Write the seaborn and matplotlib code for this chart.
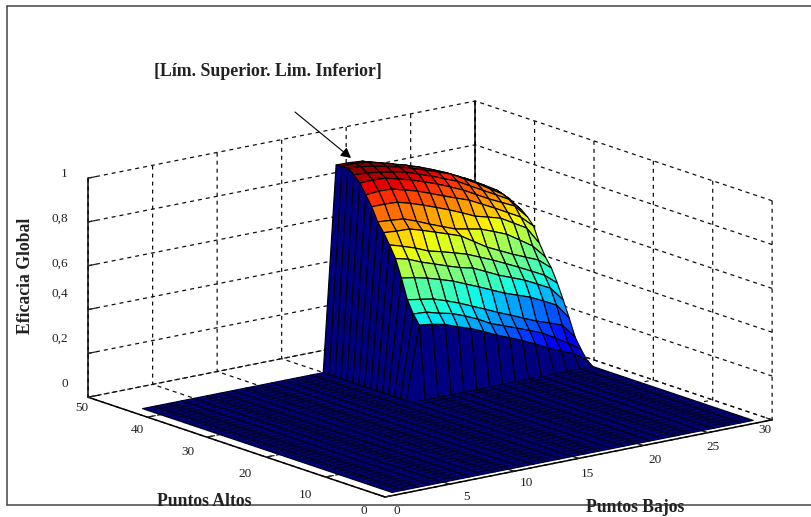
import numpy as np
import matplotlib
matplotlib.use("Agg")
import matplotlib.pyplot as plt
import seaborn as sns
from matplotlib.lines import Line2D
from matplotlib.patches import FancyArrowPatch
from mpl_toolkits.mplot3d import proj3d

# ---- data ----
puntos_bajos = list(range(1, 30))
puntos_altos = list(range(1, 44))
raised_bajos = list(range(16, 30))
raised_altos = list(range(29, 44))
# rows follow raised_altos (29 -> 43), columns raised_bajos (16 -> 29)
a29 = [.333, .325, .312, .29, .27, .245, .217, .192, .168, .14, .11, .085, .06, .02]
a30 = [.374, .371, .354, .341, .318, .292, .26, .238, .216, .193, .17, .135, .10, .06]
a31 = [.43, .42, .41, .39, .368, .342, .317, .29, .266, .24, .215, .195, .173, .107]
a32 = [.52, .51, .496, .478, .459, .434, .409, .383, .357, .336, .315, .286, .256, .185]
a33 = [.60, .585, .56, .54, .519, .50, .486, .458, .43, .407, .384, .354, .324, .258]
a34 = [.653, .635, .615, .59, .575, .558, .54, .515, .49, .462, .434, .404, .374, .326]
a35 = [.70, .695, .693, .675, .655, .635, .614, .577, .54, .512, .484, .459, .434, .386]
a36 = [.74, .735, .73, .708, .683, .66, .637, .625, .613, .59, .566, .528, .489, .427]
a37 = [.80, .80, .797, .78, .76, .738, .715, .69, .663, .647, .63, .596, .562, .48]
a38 = [.845, .85, .848, .832, .815, .793, .77, .748, .727, .697, .667, .635, .603, .55]
a39 = [.89, .892, .889, .873, .857, .836, .815, .79, .764, .732, .70, .672, .644, .582]
a40 = [.918, .915, .907, .896, .884, .863, .842, .818, .795, .762, .73, .698, .666, .605]
a41 = [.94, .935, .925, .912, .898, .88, .86, .84, .818, .785, .753, .716, .68, .619]
a42 = [.94, .94, .935, .92, .902, .885, .865, .842, .817, .788, .758, .724, .689, .637]
a43 = [.936, .935, .93, .912, .893, .875, .856, .828, .80, .78, .758, .722, .685, .646]
raised_rows = [a29, a30, a31, a32, a33, a34, a35, a36, a37, a38, a39, a40, a41, a42, a43]

x_ticks = [0, 5, 10, 15, 20, 25, 30]
y_ticks = [0, 10, 20, 30, 40, 50]
z_ticks = [0, .2, .4, .6, .8, 1]
x_labels = ["0", "5", "10", "15", "20", "25", "30"]
y_labels = ["0", "10", "20", "30", "40", "50"]
z_labels = ["0", "0,2", "0,4", "0,6", "0,8", "1"]

W, H = 812, 517
def fx(px): return px / W
def fy(py): return 1 - py / H

sns.set_theme(style="white")
plt.rcParams["font.family"] = ["Liberation Serif", "DejaVu Serif"]
jet = matplotlib.colormaps["jet"]

X, Y = np.meshgrid(puntos_bajos, puntos_altos)
Z = np.zeros_like(X, dtype=float)
for i, a in enumerate(raised_altos):
    for j, b in enumerate(raised_bajos):
        Z[puntos_altos.index(a), puntos_bajos.index(b)] = raised_rows[i][j]

fig = plt.figure(figsize=(W / 100, H / 100), dpi=100, facecolor="white")
ax = fig.add_axes([0, 0, 1, 1], projection="3d", proj_type="ortho", facecolor="none")
ax.view_init(elev=15, azim=-127.6)
aspect = (489, 487, 227)
ax.set_box_aspect(aspect)

# MATLAB-style flat shading: each cell takes the colour of its first vertex
face = jet(Z / 0.93)
surf = ax.plot_surface(X, Y, Z, rstride=1, cstride=1, facecolors=face, shade=False,
                       edgecolor="black", linewidth=0.85, antialiased=True)
surf.set_clip_on(False)

# floor cells get softer, navy-black edges so that their blue still shows
edge_colors = []
for r in range(Z.shape[0] - 1):
    for c in range(Z.shape[1] - 1):
        is_floor = Z[r:r + 2, c:c + 2].max() == 0
        edge_colors.append((0, 0, 0.14, 1) if is_floor else (0, 0, 0, 1))
surf.set_edgecolor(edge_colors)

ax.set_xlim(0, 30, view_margin=0)
ax.set_ylim(0, 50, view_margin=0)
ax.set_zlim(0, 1, view_margin=0)
ax.set_xticks(x_ticks); ax.set_xticklabels([""] * len(x_ticks))
ax.set_yticks(y_ticks); ax.set_yticklabels([""] * len(y_ticks))
ax.set_zticks(z_ticks); ax.set_zticklabels([""] * len(z_ticks))
for axis in (ax.xaxis, ax.yaxis, ax.zaxis):
    axis.set_pane_color((1, 1, 1, 0))
    axis.pane.set_edgecolor("none")
    axis._axinfo["grid"].update(color="#111111", linestyle=(0, (3.2, 3.2)), linewidth=0.9)
    axis._axinfo["tick"].update(inward_factor=0.0, outward_factor=0.25, linewidth={True: 0.9, False: 0.9})
    axis._axinfo["axisline"].update(color="black", linewidth=1.1)
    axis.line.set_color("black")
    axis.line.set_linewidth(1.1)
ax.grid(True)

# solid back corner of the box
back_edge, = ax.plot([30, 30], [50, 50], [0, 1], color="black", lw=1.1, zorder=0)
back_edge.set_clip_on(False)

# Fit the orthographic box onto the reference's pixel frame
def project(x, y, z):
    px, py, _ = proj3d.proj_transform(x, y, z, ax.get_proj())
    return ax.transData.transform((px, py))

fig.canvas.draw()
a0 = project(0, 50, 0); a1 = project(30, 0, 0)
scale = 684 / abs(a1[0] - a0[0])
ax.set_box_aspect(aspect, zoom=scale)
fig.canvas.draw()
front = project(0, 0, 0)
dx = (385 - front[0]) / W
dy = ((H - 497) - front[1]) / H
ax.set_position([dx, dy, 1, 1])

# Hand-placed labels, as in the reference
for text, (px, py) in zip(z_labels, [(65, 384), (60, 339), (60, 294), (60, 264), (60, 219), (64, 174)]):
    fig.text(fx(px), fy(py), text, ha="center", va="center", fontsize=9.5, color="#222222")
for text, (px, py) in zip(x_labels, [(397, 511), (467, 497), (526, 483), (587, 474), (655, 460), (713, 447), (765, 430)]):
    fig.text(fx(px), fy(py), text, ha="center", va="center", fontsize=9.5, color="#222222")
for text, (px, py) in zip(y_labels, [(364, 511), (305, 495), (245, 474), (188, 452), (137, 430), (82, 408)]):
    fig.text(fx(px), fy(py), text, ha="center", va="center", fontsize=9.5, color="#222222")

fig.text(fx(268), fy(71), "[Lím. Superior. Lim. Inferior]", ha="center", va="center",
         fontsize=12.8, fontweight="bold", color="#222222")
fig.text(fx(204), fy(502), "Puntos Altos", ha="center", va="center", fontsize=12.7, fontweight="bold", color="#222222")
fig.text(fx(635), fy(508), "Puntos Bajos", ha="center", va="center", fontsize=12.7, fontweight="bold", color="#222222")
fig.text(fx(26), fy(276), "Eficacia Global", rotation=90, ha="center", va="center",
         fontsize=12.7, fontweight="bold", color="#222222")

# Outer frame and annotation arrow
for (x0, y0, x1, y1) in [(7, 6, 812, 6), (7, 6, 7, 505), (7, 505, 812, 505)]:
    fig.add_artist(Line2D([fx(x0), fx(x1)], [fy(y0), fy(y1)], color="#444444", lw=1.1, transform=fig.transFigure))
fig.add_artist(FancyArrowPatch((fx(295), fy(112)), (fx(351), fy(158)), transform=fig.transFigure,
                               arrowstyle="-|>,head_length=6,head_width=3.2", color="black", lw=0.8,
                               shrinkA=0, shrinkB=0))

fig.savefig("out.png", dpi=100)
